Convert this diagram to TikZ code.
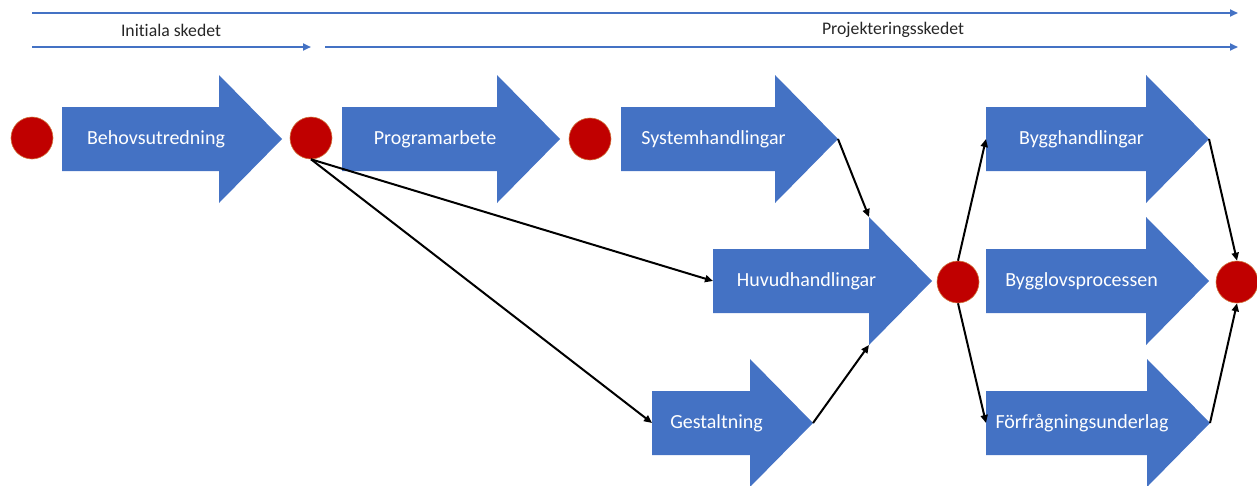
\documentclass[tikz,border=0pt]{standalone}
\usepackage{fontspec}
\setmainfont{Carlito}[Ligatures={NoCommon}]
\usetikzlibrary{arrows.meta}
\definecolor{stageblue}{HTML}{4472C4}
\definecolor{gatered}{HTML}{C00000}
\definecolor{gateedge}{HTML}{D0743C}
\definecolor{phaseline}{HTML}{4472C4}
\tikzset{
  gate/.style={circle, fill=gatered, draw=gateedge, line width=0.6pt, minimum size=42pt, inner sep=0pt},
  stagetext/.style={text=white, font=\fontsize{20}{24}\selectfont, inner sep=0pt},
  stagefill/.style={fill=stageblue},
  phase/.style={draw=phaseline, line width=2.4pt, -{Triangle[length=8pt,width=7pt]}},
  phasetext/.style={text=black!85, font=\fontsize{17.7}{21}\selectfont, inner sep=0pt},
  link/.style={draw=black, line width=2pt, -{Triangle[length=8pt,width=7pt]}},
}
% block arrow: name, tail x, axis y, overall length, label
\newcommand{\stagearrow}[5]{%
  \fill[stagefill] (#2,#3-32) -- (#2+#4-63,#3-32) -- (#2+#4-63,#3-64) -- (#2+#4,#3)
    -- (#2+#4-63,#3+64) -- (#2+#4-63,#3+32) -- (#2,#3+32) -- cycle;
  \coordinate (#1-tail) at (#2,#3);
  \coordinate (#1-tip) at (#2+#4,#3);
  \coordinate (#1-top) at (#2+#4-63,#3-64);
  \coordinate (#1-bot) at (#2+#4-63,#3+64);
  \node[stagetext] (#1) at (#2+#4/2-16,#3) {#5};
}
\begin{document}
\begin{tikzpicture}[x=1pt,y=-1pt]
\useasboundingbox (0,0) rectangle (1257,485);

% phase timeline
\coordinate (all-start) at (32,13);
\coordinate (all-end) at (1238,13);
\coordinate (init-start) at (32,47);
\coordinate (init-end) at (311,47);
\coordinate (proj-start) at (325,47);
\coordinate (proj-end) at (1238,47);
\draw[phase] (all-start) -- (all-end);
\draw[phase] (init-start) -- (init-end);
\draw[phase] (proj-start) -- (proj-end);
\node[phasetext] (initlbl) at (171,30) {Initiala skedet};
\node[phasetext] (projlbl) at (893,30) {Projekteringsskedet};

% stages
\stagearrow{beh}{62}{139}{220}{Behovsutredning}
\stagearrow{prog}{342}{139}{218}{Programarbete}
\stagearrow{sys}{621}{139}{217}{Systemhandlingar}
\stagearrow{huv}{713}{281}{219}{Huvudhandlingar}
\stagearrow{ges}{652}{423}{161}{Gestaltning}
\stagearrow{byh}{986}{139}{223}{Bygghandlingar}
\stagearrow{bygl}{986}{281}{223}{Bygglovsprocessen}
\stagearrow{forf}{986}{423}{224}{Förfrågningsunderlag}

% decision points
\node[gate] (g1) at (32,138) {};
\node[gate] (g2) at (311,138) {};
\node[gate] (g3) at (590,139) {};
\node[gate] (g4) at (958,282) {};
\node[gate] (g5) at (1237,282) {};

% connectors
\draw[link] (g2.south) -- (huv-tail);
\draw[link] (g2.south) -- (ges-tail);
\draw[link] (sys-tip) -- (huv-top);
\draw[link] (ges-tip) -- (huv-bot);
\draw[link] (g4.north) -- (byh-tail);
\draw[link] (g4.south) -- (forf-tail);
\draw[link] (byh-tip) -- (g5.north);
\draw[link] (forf-tip) -- (g5.south);
\end{tikzpicture}
\end{document}
